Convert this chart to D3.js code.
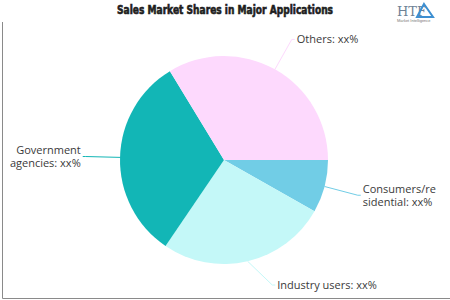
<!DOCTYPE html>
<html>
<head>
<meta charset="utf-8">
<script src="https://cdn.jsdelivr.net/npm/d3@7"></script>
<style>
  body { margin: 0; background: #fff; }
  svg { display: block; }
</style>
</head>
<body>
<div id="chart"></div>
<script>
// slice data, clockwise starting at 3 o'clock
const categories = ["Consumers/residential", "Industry users", "Government agencies", "Others"];
const shares = [8.2, 26.3, 31.8, 33.7];
const labelLines = [
  ["Consumers/re", "sidential: xx%"],
  ["Industry users: xx%"],
  ["Government", "agencies: xx%"],
  ["Others: xx%"]
];
const colors = ["#71cde6", "#c4f8f8", "#12b6b6", "#fdd9fd"];

const w = 450;
const h = 300;
const cx = 224;
const cy = 160;
const r = 104;

const svg = d3.select("#chart")
  .append("svg")
  .attr("width", w)
  .attr("height", h);

// frame on the left and bottom
svg.append("path")
  .attr("d", "M2.5,22V298.5H450")
  .attr("fill", "none")
  .attr("stroke", "#8a8a8a")
  .attr("stroke-width", 1);

svg.append("text")
  .attr("x", 225)
  .attr("y", 14)
  .attr("text-anchor", "middle")
  .attr("textLength", 216)
  .attr("lengthAdjust", "spacingAndGlyphs")
  .style("font-family", "'Liberation Sans Narrow', 'DejaVu Sans Condensed', sans-serif")
  .style("font-weight", "bold")
  .style("font-size", "12px")
  .style("fill", "#1e1e1e")
  .style("stroke", "#1e1e1e")
  .style("stroke-width", 0.6)
  .text("Sales Market Shares in Major Applications");

// small logo top right
const logo = svg.append("g").attr("transform", "translate(397,3)");
logo.append("text")
  .attr("x", 0).attr("y", 13)
  .style("font-family", "'DejaVu Serif', serif")
  .style("font-size", "13px")
  .style("fill", "#6f8296")
  .text("HTF");
logo.append("path")
  .attr("d", "M27,1 L36,14 L20,14 Z")
  .attr("fill", "none")
  .attr("stroke", "#3d8fd1")
  .attr("stroke-width", 2);
logo.append("text")
  .attr("x", 0).attr("y", 19)
  .style("font-family", "sans-serif")
  .style("font-size", "4px")
  .style("fill", "#777")
  .text("Market Intelligence");

const pie = d3.pie()
  .sort(null)
  .value((d) => d)
  .startAngle(Math.PI / 2)
  .endAngle(Math.PI / 2 + 2 * Math.PI);

const arcs = pie(shares);
const arc = d3.arc().innerRadius(0).outerRadius(r);

const g = svg.append("g").attr("transform", `translate(${cx},${cy})`);

g.selectAll("path.slice")
  .data(arcs)
  .enter()
  .append("path")
  .attr("class", "slice")
  .attr("d", arc)
  .attr("fill", (d, i) => colors[i]);

// labels with connector lines
const R = r * 1.33;
const maxY = 125;
const Rclamp = r + 30;

arcs.forEach(function (d, i) {
  const a = (d.startAngle + d.endAngle) / 2;
  const sx = Math.sin(a);
  const sy = -Math.cos(a);
  const side = sx >= 0 ? 1 : -1;
  let ey = R * sy;
  let ex = R * sx;
  if (Math.abs(ey) > maxY) {
    // label pushed inside the plot: slide it along a tighter circle
    ey = Math.sign(ey) * maxY;
    ex = side * Math.sqrt(Rclamp * Rclamp - ey * ey);
  }

  g.append("path")
    .attr("d", `M${r * sx},${r * sy}L${ex},${ey}L${ex + side * 3},${ey}`)
    .attr("fill", "none")
    .attr("stroke", colors[i])
    .attr("stroke-width", 1);

  const lines = labelLines[i];
  const t = g.append("text")
    .attr("text-anchor", side > 0 ? "start" : "end")
    .style("font-family", "'Open Sans', sans-serif")
    .style("font-size", "11px")
    .style("fill", "#3a3a3a");
  lines.forEach(function (line, j) {
    t.append("tspan")
      .attr("x", ex + side * 5)
      .attr("y", ey + (j - (lines.length - 1) / 2) * 13 + 4)
      .text(line);
  });
});
</script>
</body>
</html>
